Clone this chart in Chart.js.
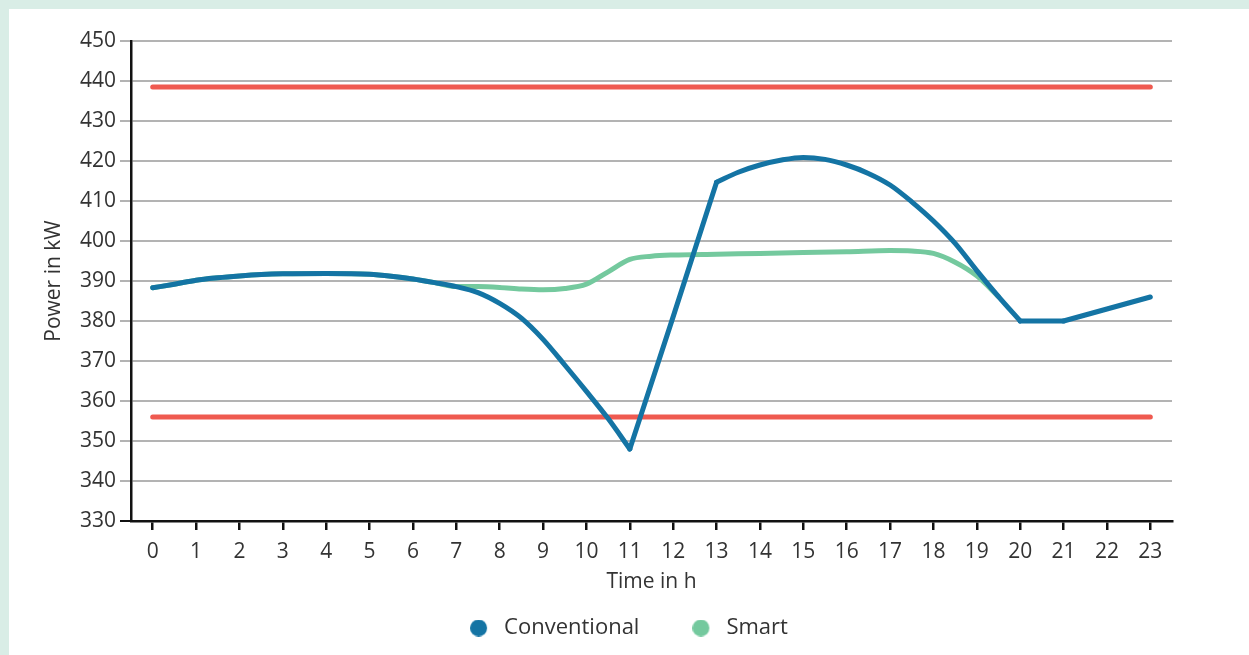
<!DOCTYPE html>
<html lang="en">
<head>
    <meta charset="UTF-8">
    <title>Power in kW - conventional vs smart</title>
    <script src="https://cdn.jsdelivr.net/npm/chart.js"></script>
    <style>
        html, body {
            margin: 0;
            padding: 0;
            background: #d9ede6;
        }
        .panel {
            position: absolute;
            left: 9px;
            top: 9px;
            width: 1240px;
            height: 646px;
            background: #ffffff;
        }
    </style>
</head>
<body>
<div class="panel">
    <canvas id="powerChart"></canvas>
</div>

<script>
    // tick labels of the time axis
    const hours = ['0', '1', '2', '3', '4', '5', '6', '7', '8', '9', '10', '11',
                   '12', '13', '14', '15', '16', '17', '18', '19', '20', '21', '22', '23'];

    // values (time in h, power in kW)
    const convTime  = [0, 0.5, 1, 1.5, 2, 2.5, 3, 4, 5, 5.5, 6, 6.5, 7, 7.5, 8, 8.5, 9, 9.5, 10, 10.5, 11,
                       12, 13, 13.5, 14, 14.5, 15, 15.5, 16, 16.5, 17, 17.5, 18, 18.5, 19, 19.5, 20, 21, 22, 23];
    const convPower = [388.3, 389.2, 390.2, 390.8, 391.25, 391.6, 391.8, 391.9, 391.7, 391.2, 390.5, 389.6, 388.6,
                       387.1, 384.4, 380.7, 375.4, 369, 362.4, 355.6, 348,
                       381.1, 414.7, 417.2, 419, 420.25, 420.9, 420.4, 419, 416.9, 414, 409.8, 405, 399.4, 392.6,
                       386.1, 380, 380, 383, 386];
    // the conventional curve has sharp corners at these hours
    const convCorners = [11, 13, 20, 21];

    const smartTime  = [0, 0.5, 1, 1.5, 2, 2.5, 3, 4, 5, 5.5, 6, 6.5, 7, 7.5, 8, 8.5, 9, 9.5, 10, 10.5, 11,
                        11.5, 12, 13, 14, 15, 16, 17, 17.5, 18, 18.5, 19, 19.5];
    const smartPower = [388.3, 389.2, 390.2, 390.8, 391.25, 391.6, 391.8, 391.9, 391.7, 391.2, 390.5, 389.6, 388.6,
                        388.6, 388.4, 388, 387.8, 388.1, 389.2, 392.3, 395.4,
                        396.2, 396.5, 396.7, 396.9, 397.1, 397.3, 397.6, 397.5, 396.9, 394.7, 391.3, 386.1];

    const upperLimit = 438.5;
    const lowerLimit = 356;
    const yTicks = { min: 330, max: 450, step: 10 };

    const blue = '#1474a4';
    const green = '#74c99e';
    const red = '#ef5a50';
    const textColor = '#333333';
    const fontFamily = '"Open Sans", "Noto Sans", sans-serif';

    const toPoints = (xs, ys, from, to) => xs
        .map((x, i) => ({ x: x, y: ys[i] }))
        .filter((p) => p.x >= from && p.x <= to);

    // legend marker: a dot with some room after it
    function legendDot(color) {
        const c = document.createElement('canvas');
        c.width = 23;
        c.height = 17;
        const g = c.getContext('2d');
        g.fillStyle = color;
        g.beginPath();
        g.arc(8.5, 8.5, 8.5, 0, Math.PI * 2);
        g.fill();
        return c;
    }

    // conventional line drawn piece by piece so the corners stay sharp
    const bounds = [convTime[0]].concat(convCorners, [convTime[convTime.length - 1]]);
    const convPieces = [];
    for (let k = 0; k < bounds.length - 1; k++) {
        convPieces.push({
            label: 'Conventional',
            legend: k === 0,
            xAxisID: 'xData',
            data: toPoints(convTime, convPower, bounds[k], bounds[k + 1]),
            borderColor: blue,
            backgroundColor: blue,
            borderWidth: 5,
            borderCapStyle: 'round',
            pointRadius: 0,
            pointStyle: legendDot(blue),
            cubicInterpolationMode: 'monotone'
        });
    }

    const limitLine = (value) => ({
        label: 'limit',
        legend: false,
        xAxisID: 'xData',
        data: [{ x: 0, y: value }, { x: hours.length - 1, y: value }],
        borderColor: red,
        borderWidth: 5,
        borderCapStyle: 'round',
        pointRadius: 0,
        tension: 0
    });

    new Chart(document.getElementById('powerChart'), {
        type: 'line',
        data: {
            labels: hours,
            datasets: convPieces.concat([
                {
                    label: 'Smart',
                    xAxisID: 'xData',
                    data: toPoints(smartTime, smartPower, 0, 24),
                    borderColor: green,
                    backgroundColor: green,
                    borderWidth: 5,
                    borderCapStyle: 'round',
                    pointRadius: 0,
                    pointStyle: legendDot(green),
                    cubicInterpolationMode: 'monotone'
                },
                limitLine(upperLimit),
                limitLine(lowerLimit)
            ])
        },
        options: {
            responsive: true,
            maintainAspectRatio: false,
            animation: false,
            layout: {
                padding: { top: 32, right: 0, bottom: 6, left: 0 }
            },
            scales: {
                x: {
                    type: 'category',
                    offset: true,
                    grid: {
                        drawOnChartArea: false,
                        color: '#111111',
                        lineWidth: 2.5,
                        tickLength: 9
                    },
                    border: { color: '#111111', width: 2.5 },
                    ticks: {
                        color: textColor,
                        font: { family: fontFamily, size: 21 },
                        padding: 9,
                        maxRotation: 0
                    },
                    title: {
                        display: true,
                        text: 'Time in h',
                        color: textColor,
                        font: { family: fontFamily, size: 21 },
                        padding: { top: 0, bottom: -30.6 }
                    },
                    afterFit: (scale) => { scale.height = 43; }
                },
                xData: {
                    type: 'linear',
                    display: false,
                    min: -0.5,
                    max: hours.length - 0.5
                },
                y: {
                    min: yTicks.min,
                    max: yTicks.max,
                    grid: {
                        color: (ctx) => ctx.tick && ctx.tick.value === yTicks.min ? '#111111' : '#b3b3b3',
                        lineWidth: 2,
                        tickLength: 11
                    },
                    border: { color: '#111111', width: 2.5 },
                    ticks: {
                        stepSize: yTicks.step,
                        color: textColor,
                        font: { family: fontFamily, size: 21 },
                        padding: 4
                    },
                    title: {
                        display: true,
                        text: 'Power in kW',
                        color: textColor,
                        font: { family: fontFamily, size: 21 },
                        padding: { top: 32, bottom: 0 }
                    },
                    afterFit: (scale) => { scale.width = 122; }
                },
                // empty right-hand axis, only keeps space free on the right
                yPad: {
                    type: 'linear',
                    position: 'right',
                    grid: { display: false },
                    border: { display: false },
                    ticks: { display: false },
                    afterFit: (scale) => { scale.width = 77; }
                }
            },
            plugins: {
                legend: {
                    position: 'bottom',
                    labels: {
                        filter: (item, data) => data.datasets[item.datasetIndex].legend !== false,
                        usePointStyle: true,
                        pointStyleWidth: 23,
                        padding: 53,
                        color: textColor,
                        font: { family: fontFamily, size: 22 }
                    }
                },
                tooltip: { enabled: false }
            }
        }
    });
</script>
</body>
</html>
